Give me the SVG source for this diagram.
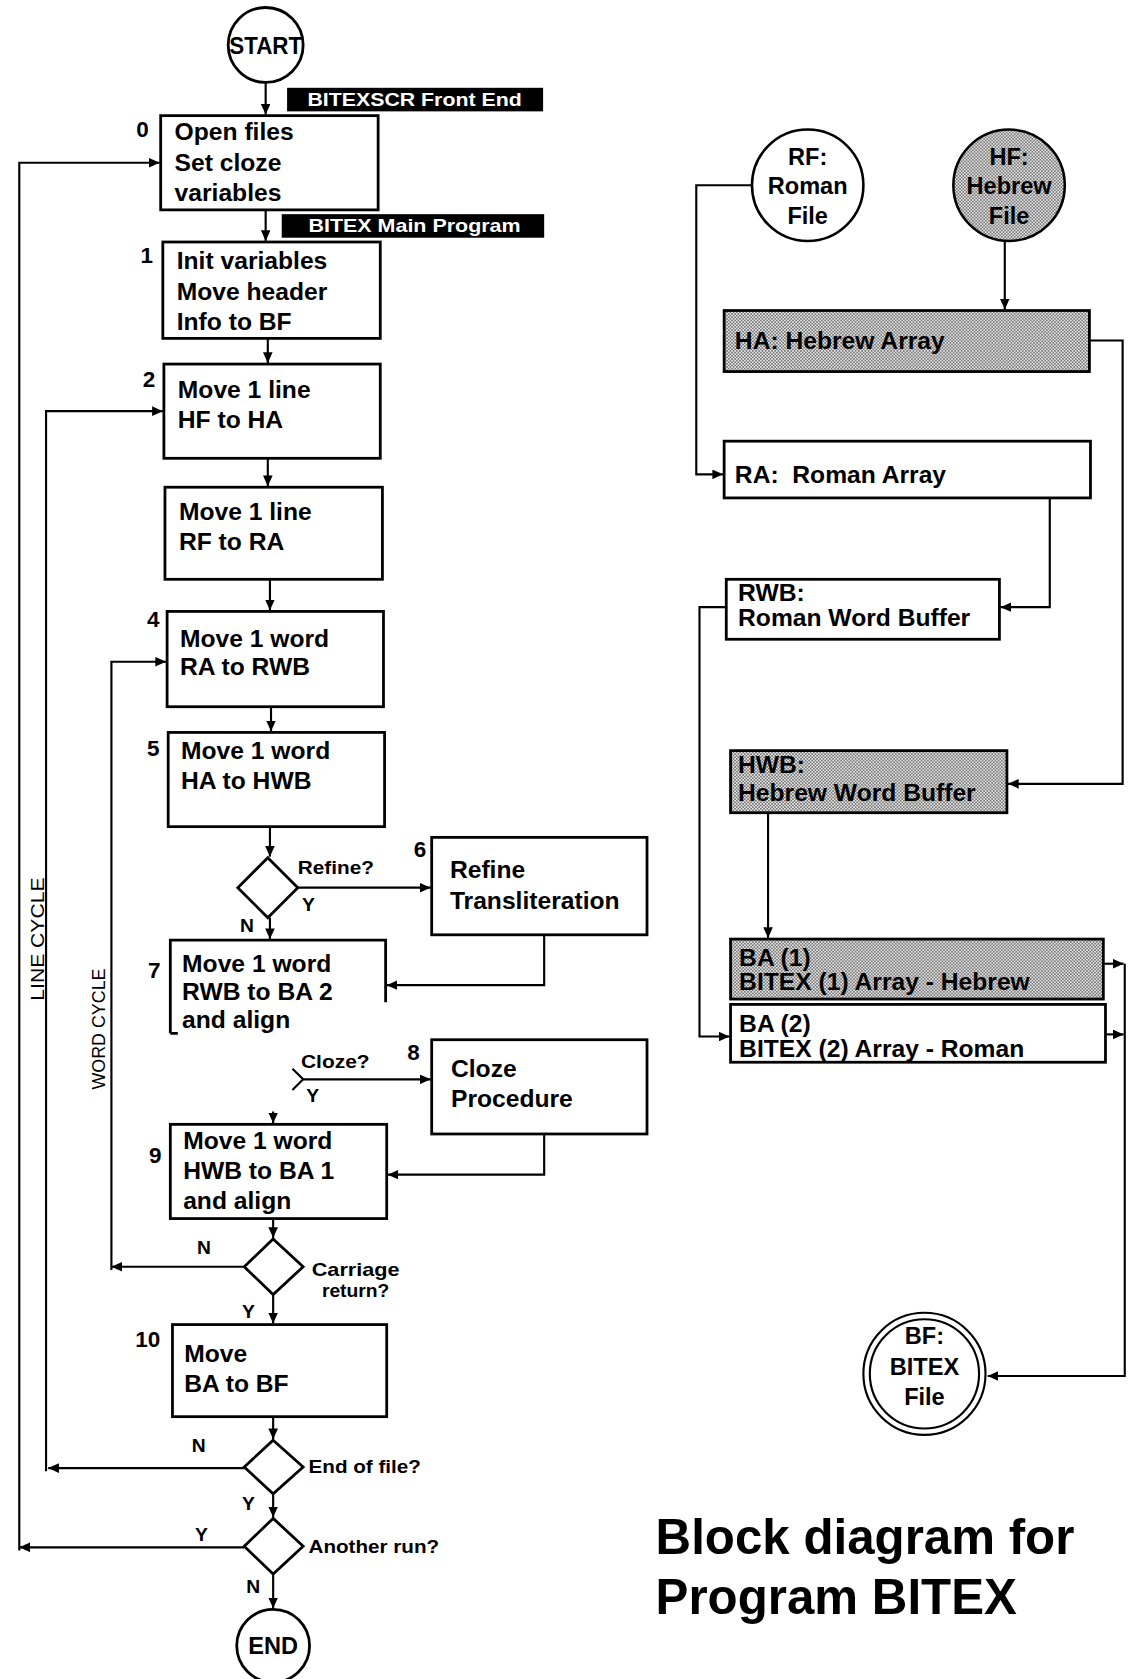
<svg xmlns="http://www.w3.org/2000/svg" width="1129" height="1679" viewBox="0 0 1129 1679">
<style>
.bx{fill:#fff;stroke:#000;stroke-width:2.6}
.sh{fill:url(#dots);stroke:#000;stroke-width:2.6}
.ln{fill:none;stroke:#000;stroke-width:2}
.t{font-family:"Liberation Sans",Arial,sans-serif;font-weight:bold;font-size:23px;fill:#000}
.n{font-family:"Liberation Sans",Arial,sans-serif;font-weight:bold;font-size:21px;fill:#000;text-anchor:middle}
.s{font-family:"Liberation Sans",Arial,sans-serif;font-weight:bold;font-size:18px;fill:#000}
.w{font-family:"Liberation Sans",Arial,sans-serif;font-weight:bold;font-size:18px;fill:#fff}
.c{font-family:"Liberation Sans",Arial,sans-serif;font-weight:bold;font-size:22px;fill:#000;text-anchor:middle}
.r{font-family:"Liberation Sans",Arial,sans-serif;font-weight:normal;font-size:17px;fill:#000;text-anchor:middle}
.ti{font-family:"Liberation Sans",Arial,sans-serif;font-weight:bold;font-size:46px;fill:#000}
</style>
<defs>
<pattern id="dots" patternUnits="userSpaceOnUse" width="3" height="3">
<rect width="3" height="3" fill="#e6e6e6"/>
<rect width="1.5" height="1.5" fill="#777"/>
<rect x="1.5" y="1.5" width="1.5" height="1.5" fill="#777"/>
</pattern>
<marker id="ah" markerUnits="userSpaceOnUse" markerWidth="11" markerHeight="9" refX="10" refY="4.5" orient="auto">
<path d="M0,0 L10,4.5 L0,9 z" fill="#000"/>
</marker>
</defs>
<rect width="1129" height="1679" fill="#fff"/>
<g transform="scale(1.0712,1.0708)">

<g id="connectors">
<path class="ln" d="M248,77 V107" marker-end="url(#ah)"/>
<path class="ln" d="M248,196 V225" marker-end="url(#ah)"/>
<path class="ln" d="M250,316 V339" marker-end="url(#ah)"/>
<path class="ln" d="M250,428 V454" marker-end="url(#ah)"/>
<path class="ln" d="M252,541 V570" marker-end="url(#ah)"/>
<path class="ln" d="M253,660 V683" marker-end="url(#ah)"/>
<path class="ln" d="M252,772 V800" marker-end="url(#ah)"/>
<path class="ln" d="M278,829 H402" marker-end="url(#ah)"/>
<path class="ln" d="M252,857 V877" marker-end="url(#ah)"/>
<path class="ln" d="M508,873 V920 H361" marker-end="url(#ah)"/>
<path class="ln" d="M273,998 L283,1008 L273,1018"/>
<path class="ln" d="M283,1008 H402" marker-end="url(#ah)"/>
<path class="ln" d="M508,1059 V1097 H362" marker-end="url(#ah)"/>
<path class="ln" d="M255,1038 V1049" marker-end="url(#ah)"/>
<path class="ln" d="M255,1138 V1156" marker-end="url(#ah)"/>
<path class="ln" d="M228,1183 H104" marker-end="url(#ah)"/>
<path class="ln" d="M104,1186 V618 H155" marker-end="url(#ah)"/>
<path class="ln" d="M255,1209 V1236" marker-end="url(#ah)"/>
<path class="ln" d="M255,1323 V1344" marker-end="url(#ah)"/>
<path class="ln" d="M228,1371 H45" marker-end="url(#ah)"/>
<path class="ln" d="M43,1374 V384 H152" marker-end="url(#ah)"/>
<path class="ln" d="M255,1396 V1417" marker-end="url(#ah)"/>
<path class="ln" d="M228,1445 H18" marker-end="url(#ah)"/>
<path class="ln" d="M18,1448 V152 H149" marker-end="url(#ah)"/>
<path class="ln" d="M255,1471 V1502" marker-end="url(#ah)"/>
<path class="ln" d="M938,226 V289" marker-end="url(#ah)"/>
<path class="ln" d="M702,173 H650 V443 H675" marker-end="url(#ah)"/>
<path class="ln" d="M980,465 V567 H934" marker-end="url(#ah)"/>
<path class="ln" d="M1017,318 H1048 V732 H941" marker-end="url(#ah)"/>
<path class="ln" d="M678,567 H653 V968 H681" marker-end="url(#ah)"/>
<path class="ln" d="M717,759 V876" marker-end="url(#ah)"/>
<path class="ln" d="M1031,900 H1049" marker-end="url(#ah)"/>
<path class="ln" d="M1033,966 H1049" marker-end="url(#ah)"/>
<path class="ln" d="M1050,900 V1285 H922" marker-end="url(#ah)"/>
</g>

<g id="start">
<circle cx="248" cy="42" r="35" fill="#fff" stroke="#000" stroke-width="2.6"/>
<text class="c" x="248" y="50" font-size="21" textLength="68" lengthAdjust="spacingAndGlyphs">START</text>
</g>
<g id="label-frontend">
<rect x="268" y="82" width="239" height="22" fill="#000"/>
<text class="w" x="287" y="99" textLength="200" lengthAdjust="spacingAndGlyphs">BITEXSCR Front End</text>
</g>
<g id="box0">
<rect class="bx" x="150" y="108" width="203" height="88"/>
<text class="n" x="133" y="128">0</text>
<text class="t" x="163" y="131">Open files</text>
<text class="t" x="163" y="160">Set cloze</text>
<text class="t" x="163" y="188">variables</text>
</g>
<g id="label-main">
<rect x="263" y="200" width="245" height="22" fill="#000"/>
<text class="w" x="288" y="217" textLength="198" lengthAdjust="spacingAndGlyphs">BITEX Main Program</text>
</g>
<g id="box1">
<rect class="bx" x="152" y="226" width="203" height="90"/>
<text class="n" x="137" y="246">1</text>
<text class="t" x="165" y="251">Init variables</text>
<text class="t" x="165" y="280">Move header</text>
<text class="t" x="165" y="308">Info to BF</text>
</g>
<g id="box2">
<rect class="bx" x="153" y="340" width="202" height="88"/>
<text class="n" x="139" y="361">2</text>
<text class="t" x="166" y="372">Move 1 line</text>
<text class="t" x="166" y="400">HF to HA</text>
</g>
<g id="box3">
<rect class="bx" x="154" y="455" width="203" height="86"/>
<text class="t" x="167" y="486">Move 1 line</text>
<text class="t" x="167" y="514">RF to RA</text>
</g>
<g id="box4">
<rect class="bx" x="156" y="571" width="202" height="89"/>
<text class="n" x="143" y="586">4</text>
<text class="t" x="168" y="604">Move 1 word</text>
<text class="t" x="168" y="630">RA to RWB</text>
</g>
<g id="box5">
<rect class="bx" x="157" y="684" width="202" height="88"/>
<text class="n" x="143" y="706">5</text>
<text class="t" x="169" y="709">Move 1 word</text>
<text class="t" x="169" y="737">HA to HWB</text>
</g>
<g id="dec-refine">
<polygon class="bx" points="250,801 278,829 250,857 222,829"/>
<text class="s" x="278" y="816" textLength="71" lengthAdjust="spacingAndGlyphs">Refine?</text>
<text class="s" x="282" y="851">Y</text>
<text class="s" x="224" y="870">N</text>
</g>
<g id="box6">
<rect class="bx" x="403" y="782" width="201" height="91"/>
<text class="n" x="392" y="800">6</text>
<text class="t" x="420" y="820">Refine</text>
<text class="t" x="420" y="849">Transliteration</text>
</g>
<g id="box7">
<path class="bx" d="M159,965 V878 H360 V936 M159,965 H166"/>
<text class="n" x="144" y="913">7</text>
<text class="t" x="170" y="908">Move 1 word</text>
<text class="t" x="170" y="934">RWB to BA 2</text>
<text class="t" x="170" y="960">and align</text>
</g>
<g id="dec-cloze">
<text class="s" x="281" y="997" textLength="64" lengthAdjust="spacingAndGlyphs">Cloze?</text>
<text class="s" x="286" y="1029">Y</text>
</g>
<g id="box8">
<rect class="bx" x="403" y="971" width="201" height="88"/>
<text class="n" x="386" y="990">8</text>
<text class="t" x="421" y="1006">Cloze</text>
<text class="t" x="421" y="1034">Procedure</text>
</g>
<g id="box9">
<rect class="bx" x="159" y="1050" width="202" height="88"/>
<text class="n" x="145" y="1086">9</text>
<text class="t" x="171" y="1073">Move 1 word</text>
<text class="t" x="171" y="1101">HWB to BA 1</text>
<text class="t" x="171" y="1129">and align</text>
</g>
<g id="dec-carriage">
<polygon class="bx" points="255,1157 283,1183 255,1209 228,1183"/>
<text class="s" x="332" y="1192" text-anchor="middle" textLength="82" lengthAdjust="spacingAndGlyphs">Carriage</text>
<text class="s" x="332" y="1211" text-anchor="middle">return?</text>
<text class="s" x="184" y="1171">N</text>
<text class="s" x="226" y="1231">Y</text>
</g>
<g id="box10">
<rect class="bx" x="161" y="1237" width="200" height="86"/>
<text class="n" x="138" y="1258">10</text>
<text class="t" x="172" y="1272">Move</text>
<text class="t" x="172" y="1300">BA to BF</text>
</g>
<g id="dec-eof">
<polygon class="bx" points="255,1345 283,1370 255,1395 228,1370"/>
<text class="s" x="288" y="1376" textLength="105" lengthAdjust="spacingAndGlyphs">End of file?</text>
<text class="s" x="179" y="1356">N</text>
<text class="s" x="226" y="1410">Y</text>
</g>
<g id="dec-another">
<polygon class="bx" points="255,1418 283,1444 255,1470 228,1444"/>
<text class="s" x="288" y="1450" textLength="122" lengthAdjust="spacingAndGlyphs">Another run?</text>
<text class="s" x="182" y="1439">Y</text>
<text class="s" x="230" y="1488">N</text>
</g>
<g id="end">
<circle cx="255" cy="1537" r="34" fill="#fff" stroke="#000" stroke-width="2.6"/>
<text class="c" x="255" y="1545" font-size="23">END</text>
</g>
<g id="cycle-labels">
<text class="r" transform="translate(41,877) rotate(-90)" textLength="115" lengthAdjust="spacingAndGlyphs">LINE CYCLE</text>
<text class="r" transform="translate(98,961) rotate(-90)" textLength="113" lengthAdjust="spacingAndGlyphs">WORD CYCLE</text>
</g>

<g id="rf">
<circle cx="754" cy="173" r="52" fill="#fff" stroke="#000" stroke-width="2.4"/>
<text class="c" x="754" y="154">RF:</text>
<text class="c" x="754" y="181">Roman</text>
<text class="c" x="754" y="209">File</text>
</g>
<g id="hf">
<circle cx="942" cy="173" r="52" fill="url(#dots)" stroke="#000" stroke-width="2.4"/>
<text class="c" x="942" y="154">HF:</text>
<text class="c" x="942" y="181">Hebrew</text>
<text class="c" x="942" y="209">File</text>
</g>
<g id="ha">
<rect class="sh" x="676" y="290" width="341" height="57"/>
<text class="t" x="686" y="326" font-size="22">HA: Hebrew Array</text>
</g>
<g id="ra">
<rect class="bx" x="676" y="412" width="342" height="53"/>
<text class="t" x="686" y="451" font-size="22" xml:space="preserve">RA:  Roman Array</text>
</g>
<g id="rwb">
<rect class="bx" x="678" y="541" width="255" height="56"/>
<text class="t" x="689" y="561" font-size="22">RWB:</text>
<text class="t" x="689" y="585" font-size="22">Roman Word Buffer</text>
</g>
<g id="hwb">
<rect class="sh" x="682" y="701" width="258" height="58"/>
<text class="t" x="689" y="722" font-size="22">HWB:</text>
<text class="t" x="689" y="748" font-size="22">Hebrew Word Buffer</text>
</g>
<g id="ba1">
<rect class="sh" x="682" y="877" width="348" height="56"/>
<text class="t" x="690" y="902" font-size="22">BA (1)</text>
<text class="t" x="690" y="925" font-size="22">BITEX (1) Array - Hebrew</text>
</g>
<g id="ba2">
<rect class="bx" x="682" y="938" width="350" height="54"/>
<text class="t" x="690" y="964" font-size="22">BA (2)</text>
<text class="t" x="690" y="987" font-size="22">BITEX (2) Array - Roman</text>
</g>
<g id="bf">
<circle cx="863" cy="1283" r="57" fill="#fff" stroke="#000" stroke-width="2"/>
<circle cx="863" cy="1283" r="51" fill="none" stroke="#000" stroke-width="2"/>
<text class="c" x="863" y="1255" font-size="21">BF:</text>
<text class="c" x="863" y="1284" font-size="21">BITEX</text>
<text class="c" x="863" y="1312" font-size="21">File</text>
</g>
<g id="title">
<text class="ti" x="612" y="1451">Block diagram for</text>
<text class="ti" x="612" y="1507">Program BITEX</text>
</g>
</g>
</svg>
